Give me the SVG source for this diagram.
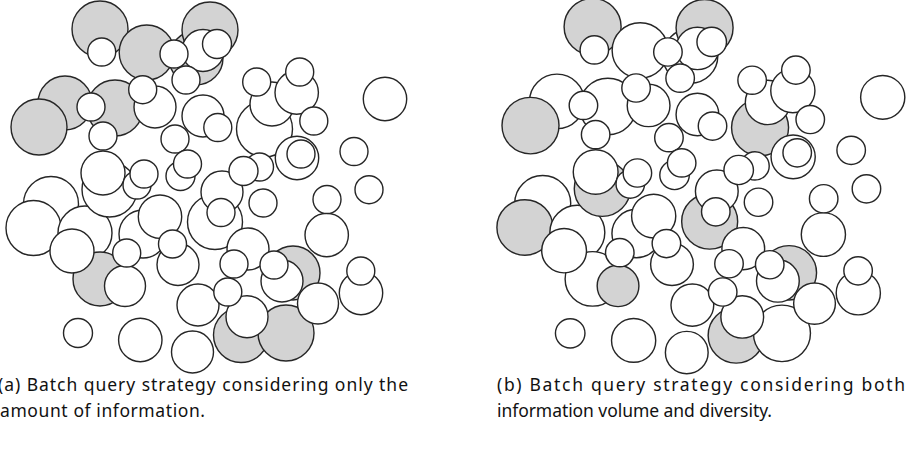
<svg xmlns="http://www.w3.org/2000/svg" width="923" height="454" viewBox="0 0 923 454">
<style>
.p circle{stroke:#262626;stroke-width:1.4}
.w{fill:#ffffff}
.g{fill:#d3d3d3}
.cap{font-family:"Noto Sans","Open Sans","DejaVu Sans",sans-serif;font-size:17.5px;fill:#111}
</style>
<rect width="923" height="454" fill="#ffffff"/>
<g id="panel-a" class="p">
<circle class="g" cx="65" cy="103" r="27"/>
<circle class="g" cx="39" cy="127" r="28"/>
<circle class="g" cx="115" cy="108" r="28"/>
<circle class="g" cx="100" cy="29" r="28"/>
<circle class="g" cx="146.7" cy="52.5" r="27.5"/>
<circle class="g" cx="196" cy="58" r="27"/>
<circle class="g" cx="210" cy="30" r="28"/>
<circle class="w" cx="51" cy="204" r="27.5"/>
<circle class="w" cx="33.5" cy="228" r="27.5"/>
<circle class="w" cx="85" cy="233" r="27"/>
<circle class="w" cx="109.5" cy="189.5" r="27.5"/>
<circle class="g" cx="100" cy="279" r="27"/>
<circle class="w" cx="264.5" cy="129" r="28"/>
<circle class="w" cx="215" cy="222" r="27.5"/>
<circle class="g" cx="293" cy="273" r="27"/>
<circle class="g" cx="241" cy="335" r="27.5"/>
<circle class="g" cx="286" cy="333" r="28"/>
<circle class="w" cx="143" cy="234" r="24"/>
<circle class="w" cx="103" cy="173" r="22"/>
<circle class="w" cx="72" cy="251" r="22"/>
<circle class="w" cx="272" cy="104" r="22"/>
<circle class="w" cx="296.7" cy="92.5" r="21.7"/>
<circle class="w" cx="203" cy="50.5" r="21"/>
<circle class="w" cx="155" cy="107" r="21"/>
<circle class="w" cx="203" cy="116" r="21"/>
<circle class="w" cx="160" cy="216.7" r="21.7"/>
<circle class="w" cx="178" cy="264.5" r="21"/>
<circle class="w" cx="198" cy="305" r="21"/>
<circle class="w" cx="140.3" cy="340" r="21.7"/>
<circle class="w" cx="192.5" cy="352" r="21"/>
<circle class="w" cx="222" cy="192" r="21"/>
<circle class="w" cx="297" cy="158" r="21.7"/>
<circle class="w" cx="326.7" cy="235" r="21.7"/>
<circle class="w" cx="248" cy="249" r="21"/>
<circle class="w" cx="282" cy="281" r="21"/>
<circle class="w" cx="318" cy="303.5" r="20.5"/>
<circle class="w" cx="247" cy="316.7" r="21"/>
<circle class="w" cx="361" cy="293" r="21.7"/>
<circle class="w" cx="385" cy="99" r="21.7"/>
<circle class="w" cx="125" cy="286" r="20.5"/>
<circle class="w" cx="101.7" cy="52" r="14"/>
<circle class="w" cx="174" cy="54" r="14"/>
<circle class="w" cx="217" cy="44" r="14.5"/>
<circle class="w" cx="91" cy="107" r="14"/>
<circle class="w" cx="103" cy="136" r="14"/>
<circle class="w" cx="142.7" cy="89.7" r="14"/>
<circle class="w" cx="186" cy="80" r="14"/>
<circle class="w" cx="175" cy="139" r="14"/>
<circle class="w" cx="180.5" cy="176" r="14.5"/>
<circle class="w" cx="187.5" cy="164" r="14"/>
<circle class="w" cx="137" cy="185" r="14"/>
<circle class="w" cx="144" cy="174" r="14"/>
<circle class="w" cx="126.7" cy="253" r="14"/>
<circle class="w" cx="172.5" cy="244" r="14"/>
<circle class="w" cx="78" cy="333" r="14.5"/>
<circle class="w" cx="221" cy="212.5" r="14"/>
<circle class="w" cx="259.5" cy="167" r="14"/>
<circle class="w" cx="243.5" cy="171" r="14.5"/>
<circle class="w" cx="301" cy="154" r="14"/>
<circle class="w" cx="263" cy="203" r="14"/>
<circle class="w" cx="327" cy="199.5" r="14"/>
<circle class="w" cx="369" cy="189.7" r="14"/>
<circle class="w" cx="234" cy="264" r="14"/>
<circle class="w" cx="274" cy="265" r="14"/>
<circle class="w" cx="227.8" cy="292" r="14"/>
<circle class="w" cx="360.8" cy="271" r="14"/>
<circle class="w" cx="256.7" cy="82" r="14"/>
<circle class="w" cx="299.7" cy="72" r="14"/>
<circle class="w" cx="313.8" cy="121" r="14"/>
<circle class="w" cx="217.8" cy="127.5" r="14"/>
<circle class="w" cx="354" cy="151.5" r="14"/>
</g>
<g id="panel-b" class="p" transform="translate(490.8,-2.5) scale(1.018,1.0086)">
<circle class="w" cx="65" cy="103" r="27"/>
<circle class="g" cx="39" cy="127" r="28"/>
<circle class="w" cx="115" cy="108" r="28"/>
<circle class="g" cx="100" cy="29" r="28"/>
<circle class="w" cx="146.7" cy="52.5" r="27.5"/>
<circle class="w" cx="196" cy="58" r="27"/>
<circle class="g" cx="210" cy="30" r="28"/>
<circle class="w" cx="51" cy="204" r="27.5"/>
<circle class="g" cx="33.5" cy="228" r="27.5"/>
<circle class="w" cx="85" cy="233" r="27"/>
<circle class="g" cx="109.5" cy="189.5" r="27.5"/>
<circle class="w" cx="100" cy="279" r="27"/>
<circle class="g" cx="264.5" cy="129" r="28"/>
<circle class="g" cx="215" cy="222" r="27.5"/>
<circle class="g" cx="293" cy="273" r="27"/>
<circle class="g" cx="241" cy="335" r="27.5"/>
<circle class="w" cx="286" cy="333" r="28"/>
<circle class="w" cx="143" cy="234" r="24"/>
<circle class="w" cx="103" cy="173" r="22"/>
<circle class="w" cx="72" cy="251" r="22"/>
<circle class="w" cx="272" cy="104" r="22"/>
<circle class="w" cx="296.7" cy="92.5" r="21.7"/>
<circle class="w" cx="203" cy="50.5" r="21"/>
<circle class="w" cx="155" cy="107" r="21"/>
<circle class="w" cx="203" cy="116" r="21"/>
<circle class="w" cx="160" cy="216.7" r="21.7"/>
<circle class="w" cx="178" cy="264.5" r="21"/>
<circle class="w" cx="198" cy="305" r="21"/>
<circle class="w" cx="140.3" cy="340" r="21.7"/>
<circle class="w" cx="192.5" cy="352" r="21"/>
<circle class="w" cx="222" cy="192" r="21"/>
<circle class="w" cx="297" cy="158" r="21.7"/>
<circle class="w" cx="326.7" cy="235" r="21.7"/>
<circle class="w" cx="248" cy="249" r="21"/>
<circle class="w" cx="282" cy="281" r="21"/>
<circle class="w" cx="318" cy="303.5" r="20.5"/>
<circle class="w" cx="247" cy="316.7" r="21"/>
<circle class="w" cx="361" cy="293" r="21.7"/>
<circle class="w" cx="385" cy="99" r="21.7"/>
<circle class="g" cx="125" cy="286" r="20.5"/>
<circle class="w" cx="101.7" cy="52" r="14"/>
<circle class="w" cx="174" cy="54" r="14"/>
<circle class="w" cx="217" cy="44" r="14.5"/>
<circle class="w" cx="91" cy="107" r="14"/>
<circle class="w" cx="103" cy="136" r="14"/>
<circle class="w" cx="142.7" cy="89.7" r="14"/>
<circle class="w" cx="186" cy="80" r="14"/>
<circle class="w" cx="175" cy="139" r="14"/>
<circle class="w" cx="180.5" cy="176" r="14.5"/>
<circle class="w" cx="187.5" cy="164" r="14"/>
<circle class="w" cx="137" cy="185" r="14"/>
<circle class="w" cx="144" cy="174" r="14"/>
<circle class="w" cx="126.7" cy="253" r="14"/>
<circle class="w" cx="172.5" cy="244" r="14"/>
<circle class="w" cx="78" cy="333" r="14.5"/>
<circle class="w" cx="221" cy="212.5" r="14"/>
<circle class="w" cx="259.5" cy="167" r="14"/>
<circle class="w" cx="243.5" cy="171" r="14.5"/>
<circle class="w" cx="301" cy="154" r="14"/>
<circle class="w" cx="263" cy="203" r="14"/>
<circle class="w" cx="327" cy="199.5" r="14"/>
<circle class="w" cx="369" cy="189.7" r="14"/>
<circle class="w" cx="234" cy="264" r="14"/>
<circle class="w" cx="274" cy="265" r="14"/>
<circle class="w" cx="227.8" cy="292" r="14"/>
<circle class="w" cx="360.8" cy="271" r="14"/>
<circle class="w" cx="256.7" cy="82" r="14"/>
<circle class="w" cx="299.7" cy="72" r="14"/>
<circle class="w" cx="313.8" cy="121" r="14"/>
<circle class="w" cx="217.8" cy="127.5" r="14"/>
<circle class="w" cx="354" cy="151.5" r="14"/>
</g>
<g id="captions">
<text class="cap" x="-2" y="391" textLength="410" lengthAdjust="spacing">(a) Batch query strategy considering only the</text>
<text class="cap" x="0" y="417" textLength="205" lengthAdjust="spacing">amount of information.</text>
<text class="cap" x="497" y="391" textLength="408" lengthAdjust="spacing">(b) Batch query strategy considering both</text>
<text class="cap" x="497" y="417" textLength="275" lengthAdjust="spacing">information volume and diversity.</text>
</g>
</svg>
